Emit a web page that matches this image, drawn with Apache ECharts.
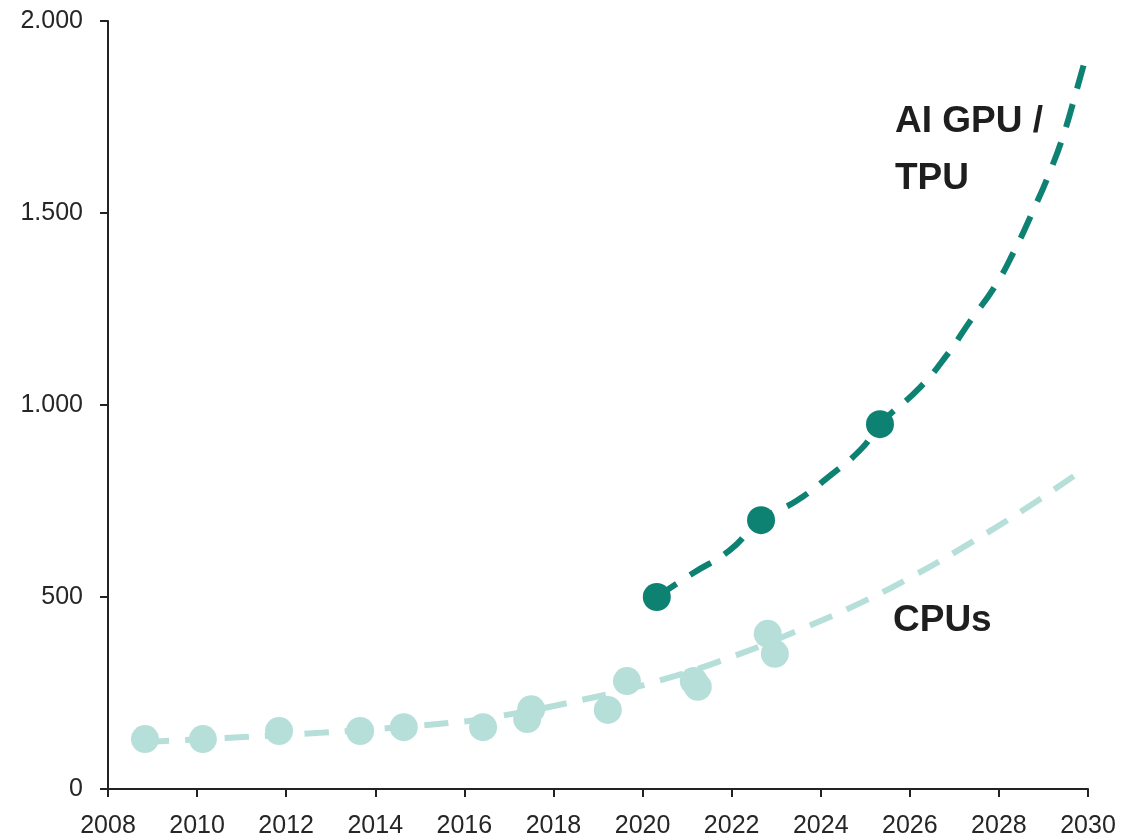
<!DOCTYPE html>
<html>
<head>
<meta charset="utf-8">
<script src="https://cdn.jsdelivr.net/npm/echarts@6/dist/echarts.min.js"></script>
<style>
	html, body { margin: 0; padding: 0; background: #fff; }
	#chart { width: 1133px; height: 840px; }
</style>
</head>
<body>
<div id="chart"></div>
<script>
// 数据
var cpuPoints = [
	[2008.83, 130], [2010.13, 130], [2011.84, 151], [2013.66, 151],
	[2014.64, 161], [2016.42, 161], [2017.41, 182], [2017.50, 208],
	[2019.22, 206], [2019.65, 281], [2021.15, 281], [2021.24, 266],
	[2022.81, 404], [2022.97, 352]
];
var gpuPoints = [[2020.32, 500], [2022.66, 700], [2025.33, 950]];

// trend curves, sampled along the dashed lines
var cpuTrend = [
	[2008.83, 123], [2009.28, 125], [2010.96, 135], [2012.85, 147],
	[2015.65, 172], [2016.8, 190], [2018.44, 227], [2020.28, 279],
	[2022.07, 347], [2023.78, 427], [2024.88, 484], [2026.11, 557],
	[2027.39, 643], [2028.54, 726], [2029.77, 822], [2029.85, 830]
];
var gpuTrend = [
	[2020.32, 500], [2021.13, 562], [2021.94, 620], [2022.66, 700],
	[2023.45, 750], [2024.21, 816], [2024.93, 888], [2025.33, 950],
	[2026.23, 1046], [2026.83, 1130], [2027.37, 1221], [2027.91, 1309],
	[2028.36, 1405], [2028.76, 1504], [2029.14, 1606], [2029.46, 1707],
	[2029.73, 1814], [2029.93, 1897]
];

var cpuColor = '#b7dfd9';
var gpuColor = '#0d8272';
var textColor = '#1e1e1e';

var myChart = echarts.init(document.getElementById('chart'));
myChart.setOption({
	animation: false,
	grid: { left: 108, top: 21, right: 45, bottom: 51 },
	xAxis: {
		type: 'value',
		min: 2008,
		max: 2030,
		interval: 2,
		splitLine: { show: false },
		axisLine: { lineStyle: { color: '#222', width: 2 } },
		axisTick: { length: 8, lineStyle: { color: '#222', width: 2 } },
		axisLabel: {
			color: '#262626',
			fontSize: 25,
			fontFamily: 'Liberation Sans, Arial, sans-serif',
			margin: 25,
			formatter: function(v) { return String(v); }
		}
	},
	yAxis: {
		type: 'value',
		min: 0,
		max: 2000,
		interval: 500,
		splitLine: { show: false },
		axisLine: { show: true, lineStyle: { color: '#222', width: 2 } },
		axisTick: { show: true, length: 8, lineStyle: { color: '#222', width: 2 } },
		axisLabel: {
			color: '#262626',
			fontSize: 25,
			fontFamily: 'Liberation Sans, Arial, sans-serif',
			margin: 25,
			formatter: function(v) {
				return v >= 1000 ? Math.floor(v / 1000) + '.' + ('00' + (v % 1000)).slice(-3) : String(v);
			}
		}
	},
	series: [{
		name: 'CPU trend',
		type: 'line',
		data: cpuTrend,
		smooth: true,
		showSymbol: false,
		lineStyle: { color: cpuColor, width: 6, type: [24, 16] },
		z: 2
	}, {
		name: 'GPU trend',
		type: 'line',
		data: gpuTrend,
		smooth: true,
		showSymbol: false,
		lineStyle: { color: gpuColor, width: 6, type: [24, 16] },
		z: 2
	}, {
		name: 'CPUs',
		type: 'scatter',
		data: cpuPoints,
		symbolSize: 28,
		itemStyle: { color: cpuColor, opacity: 1 },
		z: 3
	}, {
		name: 'AI GPU / TPU',
		type: 'scatter',
		data: gpuPoints,
		symbolSize: 28,
		itemStyle: { color: gpuColor, opacity: 1 },
		z: 3
	}],
	graphic: [{
		type: 'text',
		left: 895,
		top: 93,
		style: {
			text: 'AI GPU /\nTPU',
			fill: textColor,
			font: 'bold 37px "Liberation Sans", Arial, sans-serif',
			lineHeight: 57
		}
	}, {
		type: 'text',
		left: 893,
		top: 602,
		style: {
			text: 'CPUs',
			fill: textColor,
			font: 'bold 37px "Liberation Sans", Arial, sans-serif',
			lineHeight: 37
		}
	}]
});
</script>
</body>
</html>
